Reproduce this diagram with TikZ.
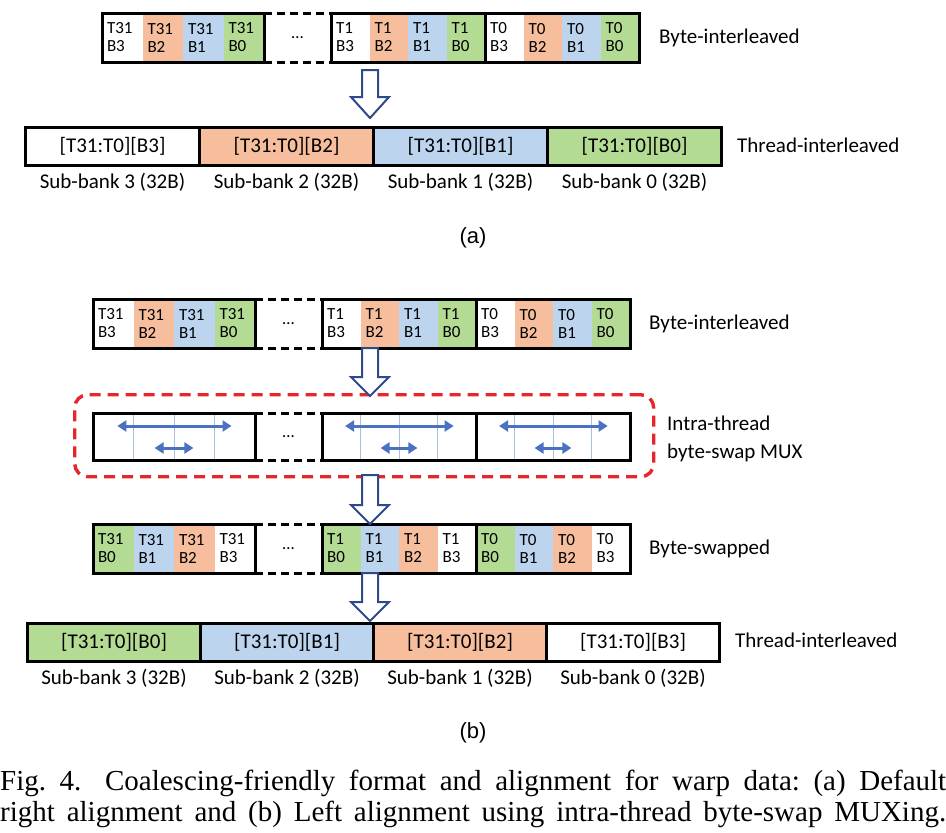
\documentclass[tikz,border=0pt]{standalone}
\usepackage{fontspec}
\setmainfont{Liberation Serif}
\newfontfamily\carl{Carlito}
\newfontfamily\lsans{Liberation Sans}
\usetikzlibrary{arrows.meta,calc}
\definecolor{cor}{HTML}{F6BE9C}
\definecolor{cbl}{HTML}{BCD4EE}
\definecolor{cgr}{HTML}{B3DB94}
\definecolor{anavy}{HTML}{2E4A8A}
\definecolor{mred}{HTML}{E5262B}
\definecolor{mblue}{HTML}{4A72C0}
\definecolor{thinc}{HTML}{A8C0D8}
\tikzset{
 bcell/.style={rectangle, inner xsep=5pt, inner ysep=0pt, outer sep=0pt, minimum height=49pt, anchor=north west, align=left, font=\carl\fontsize{17}{18}\selectfont},
 grpbox/.style={draw=black, line width=3pt},
 dotsbox/.style={rectangle, inner sep=0pt, outer sep=0pt, minimum width=67pt, anchor=north west, font=\carl\fontsize{17}{18}\selectfont},
 dashedge/.style={draw=black, line width=3pt, dash pattern=on 8pt off 5pt},
 lbl/.style={font=\carl\fontsize{21}{28}\selectfont, inner sep=0pt, anchor=west, align=left},
 tcell/.style={rectangle, draw=black, line width=3pt, minimum height=38pt, inner sep=0pt, anchor=north west, font=\carl\fontsize{21}{24}\selectfont},
 sblbl/.style={font=\carl\fontsize{21}{24}\selectfont, inner sep=0pt, anchor=north},
 barrow/.style={draw=anavy, line width=2pt, fill=white, line join=miter},
 muxg/.style={rectangle, minimum height=47pt, inner sep=0pt, outer sep=0pt, anchor=north west},
 swap/.style={draw=mblue, line width=3pt, {Triangle[length=9pt,width=11pt]}-{Triangle[length=9pt,width=11pt]}},
 thinline/.style={draw=thinc, line width=0.8pt},
 muxbox/.style={draw=mred, line width=3.4pt, dash pattern=on 11pt off 7pt, rounded corners=13pt, rectangle, minimum width=579pt, minimum height=82pt, anchor=north west, inner sep=0pt},
 sublbl/.style={font=\lsans\fontsize{22}{26}\selectfont, inner sep=0pt},
 captext/.style={font=\fontsize{29}{30}\selectfont, inner sep=0pt, anchor=base west},
}
% name, x, y, cell width, thread label, list colour/byte
\newcommand\bytegroup[6]{%
 \pgfmathsetlengthmacro\twid{#4-10}%
 \foreach \c/\b [count=\i from 0] in {#6} {
   \node[bcell, fill=\c, text width=\twid] (#1-\i) at ({#2+\i*#4},#3) {#5\\\b};
 }
 \draw[grpbox] (#1-0.north west) rectangle (#1-3.south east);
}
\newcommand\dotsgroup[3]{% name, x, y
 \node[dotsbox, minimum height=49pt] (#1) at (#2,#3) {\dots};
 \draw[dashedge] (#1.north west) -- (#1.north east);
 \draw[dashedge] (#1.south west) -- (#1.south east);
}
\newcommand\muxgroup[4]{% name, x, y, width
 \node[muxg, minimum width=#4pt] (#1) at (#2,#3) {};
 \foreach \f in {0.25,0.5,0.75}
   \draw[thinline] ($(#1.north west)!\f!(#1.north east)$) -- ($(#1.south west)!\f!(#1.south east)$);
 \draw[swap] ($(#1.north west)!0.15!(#1.north east)+(0,13)$) -- ($(#1.north west)!0.855!(#1.north east)+(0,13)$);
 \draw[swap] ($(#1.north west)!0.38!(#1.north east)+(0,35)$) -- ($(#1.north west)!0.62!(#1.north east)+(0,35)$);
 \draw[grpbox] (#1.north west) rectangle (#1.south east);
}
\newcommand\blockarrow[3]{% start, tip, head length
 \draw[barrow] ($(#1)+(-8,0)$) -- ($(#2)+(-8,-#3)$) -- ($(#2)+(-19,-#3)$) -- (#2) -- ($(#2)+(19,-#3)$) -- ($(#2)+(8,-#3)$) -- ($(#1)+(8,0)$) -- cycle;
}
\begin{document}
\begin{tikzpicture}[x=1pt,y=-1pt]
\useasboundingbox (0,0) rectangle (946,833);

% ---------------- (a) ----------------
\bytegroup{taA}{102}{13}{40.5}{T31}{white/B3,cor/B2,cbl/B1,cgr/B0}
\dotsgroup{taD}{264}{13}
\bytegroup{taB}{331}{13}{38.5}{T1}{white/B3,cor/B2,cbl/B1,cgr/B0}
\bytegroup{taC}{485}{13}{38.5}{T0}{white/B3,cor/B2,cbl/B1,cgr/B0}
\node[lbl] (laA) at (659,37.5) {Byte-interleaved};

\coordinate (ar1s) at (370,70);
\coordinate (ar1t) at (370,118);
\blockarrow{ar1s}{ar1t}{21}

\node[tcell, fill=white, minimum width=174pt] (tha-0) at (24,126) {[T31:T0][B3]};
\node[tcell, fill=cor, minimum width=174pt] (tha-1) at (198,126) {[T31:T0][B2]};
\node[tcell, fill=cbl, minimum width=174pt] (tha-2) at (372,126) {[T31:T0][B1]};
\node[tcell, fill=cgr, minimum width=174pt] (tha-3) at (546,126) {[T31:T0][B0]};
\node[lbl] (lbA) at (737,145) {Thread-interleaved};
\node[sblbl] (sba-0) at ($(tha-0.south)+(0,6)$) {Sub-bank 3 (32B)};
\node[sblbl] (sba-1) at ($(tha-1.south)+(0,6)$) {Sub-bank 2 (32B)};
\node[sblbl] (sba-2) at ($(tha-2.south)+(0,6)$) {Sub-bank 1 (32B)};
\node[sblbl] (sba-3) at ($(tha-3.south)+(0,6)$) {Sub-bank 0 (32B)};
\node[sublbl] (suba) at (473,238) {(a)};

% ---------------- (b) ----------------
\bytegroup{tbA}{93}{299}{40.5}{T31}{white/B3,cor/B2,cbl/B1,cgr/B0}
\dotsgroup{tbD}{255}{299}
\bytegroup{tbB}{322}{299}{38.5}{T1}{white/B3,cor/B2,cbl/B1,cgr/B0}
\bytegroup{tbC}{476}{299}{38.5}{T0}{white/B3,cor/B2,cbl/B1,cgr/B0}
\node[lbl] (lcA) at (649,323.5) {Byte-interleaved};

\node[muxbox] (mux) at (73,393) {};
\muxgroup{mxA}{93}{413}{162}
\node[dotsbox, minimum height=47pt] (mxD) at (255,413) {\dots};
\draw[dashedge] (mxD.north west) -- (mxD.north east);
\draw[dashedge] (mxD.south west) -- (mxD.south east);
\muxgroup{mxB}{322}{413}{154}
\muxgroup{mxC}{476}{413}{154}
\node[lbl] (lmx) at (667,439) {Intra-thread\\byte-swap MUX};

\coordinate (ar2s) at (370,348);
\coordinate (ar2t) at (370,396);
\blockarrow{ar2s}{ar2t}{19}

\bytegroup{swA}{93}{524}{40.5}{T31}{cgr/B0,cbl/B1,cor/B2,white/B3}
\dotsgroup{swD}{255}{524}
\bytegroup{swB}{322}{524}{38.5}{T1}{cgr/B0,cbl/B1,cor/B2,white/B3}
\bytegroup{swC}{476}{524}{38.5}{T0}{cgr/B0,cbl/B1,cor/B2,white/B3}
\node[lbl] (lsw) at (649,548.5) {Byte-swapped};

\coordinate (ar3s) at (370,475);
\coordinate (ar3t) at (370,524);
\blockarrow{ar3s}{ar3t}{19}

\node[tcell, fill=cgr, minimum width=173pt] (thb-0) at (26,622) {[T31:T0][B0]};
\node[tcell, fill=cbl, minimum width=173pt] (thb-1) at (199,622) {[T31:T0][B1]};
\node[tcell, fill=cor, minimum width=173pt] (thb-2) at (372,622) {[T31:T0][B2]};
\node[tcell, fill=white, minimum width=173pt] (thb-3) at (545,622) {[T31:T0][B3]};
\node[lbl] (lbB) at (735,640) {Thread-interleaved};
\node[sblbl] (sbb-0) at ($(thb-0.south)+(0,6)$) {Sub-bank 3 (32B)};
\node[sblbl] (sbb-1) at ($(thb-1.south)+(0,6)$) {Sub-bank 2 (32B)};
\node[sblbl] (sbb-2) at ($(thb-2.south)+(0,6)$) {Sub-bank 1 (32B)};
\node[sblbl] (sbb-3) at ($(thb-3.south)+(0,6)$) {Sub-bank 0 (32B)};

\coordinate (ar4s) at (370,573);
\coordinate (ar4t) at (370,621);
\blockarrow{ar4s}{ar4t}{19}

\node[sublbl] (subb) at (473,733) {(b)};

% ---------------- caption ----------------
\node[captext] (cap1) at (0,790) {\frenchspacing\makebox[946pt][s]{Fig.~4.\hspace{0.35em} Coalescing-friendly format and alignment for warp data: (a) Default}};
\node[captext] (cap2) at (0,821) {\frenchspacing\makebox[946pt][s]{right alignment and (b) Left alignment using intra-thread byte-swap MUXing.}};
\end{tikzpicture}
\end{document}
